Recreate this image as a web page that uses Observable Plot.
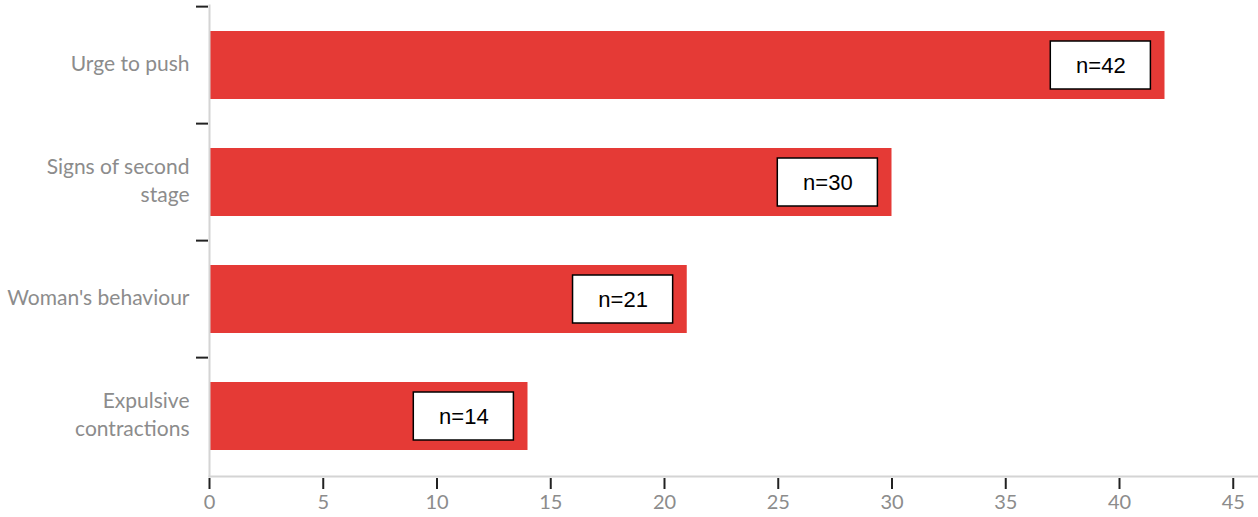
<!DOCTYPE html>
<html><head><meta charset="utf-8">
<script src="https://cdn.jsdelivr.net/npm/d3@7"></script>
<script src="https://cdn.jsdelivr.net/npm/@observablehq/plot@0.6"></script>
<style>html,body{margin:0;padding:0;background:#fff}</style>
</head><body><div id="chart"></div>
<script>
const categories = ["Urge to push", "Signs of second stage", "Woman's behaviour", "Expulsive contractions"];
const tickLabels = ["Urge to push", "Signs of second\nstage", "Woman's behaviour", "Expulsive\ncontractions"];
const counts = [42, 30, 21, 14];
const valueLabels = ["n=42", "n=30", "n=21", "n=14"];
const xTicks = [0, 5, 10, 15, 20, 25, 30, 35, 40, 45];

const data = categories.map((c, i) => ({category: c, value: counts[i], label: valueLabels[i]}));
const W = 1258, H = 517, ml = 209, mt = 5, mb = 41;
const unit = 22.75;
const xMax = (W - ml) / unit;
const step = (H - mt - mb) / categories.length;
const labelFont = "Lato, 'Open Sans', sans-serif";

const plot = Plot.plot({
  width: W, height: H,
  marginLeft: ml, marginRight: 0, marginTop: mt, marginBottom: mb,
  style: {fontFamily: labelFont, background: "#fff", overflow: "visible"},
  x: {domain: [0, xMax], label: null},
  y: {domain: categories, paddingInner: 0.42, paddingOuter: 0.21, label: null},
  marks: [
    Plot.barX(data, {y: "category", x: "value", fill: "#e53a36"}),
    Plot.barX(data, {y: "category", x1: d => d.value - 5.02, x2: d => d.value - 0.62,
      fill: "white", stroke: "black", strokeWidth: 1.5, insetTop: 10, insetBottom: 10}),
    Plot.text(data, {y: "category", x: d => d.value - 2.82, text: "label",
      fontFamily: "'Liberation Sans', Arial, sans-serif", fontSize: 22, fill: "black"}),
    Plot.frame({anchor: "left", stroke: "#d4d4d4", strokeWidth: 2}),
    Plot.frame({anchor: "bottom", stroke: "#d4d4d4", strokeWidth: 2}),
    Plot.axisY({tickSize: 12, text: null, label: null, dy: -step / 2, stroke: "#222", strokeWidth: 2, dx: -1}),
    Plot.axisY({tickSize: 0, tickPadding: 20, label: null, color: "#8c8c8c", fontSize: 21, lineHeight: 1.33, dy: -3,
      tickFormat: d => tickLabels[categories.indexOf(d)]}),
    Plot.axisX({ticks: xTicks, tickSize: 11, text: null, label: null, stroke: "#222", strokeWidth: 2, dy: 2}),
    Plot.axisX({ticks: xTicks, tickSize: 0, tickPadding: 18, label: null, color: "#8c8c8c", fontSize: 20,
      tickFormat: d => String(d)})
  ]
});
document.getElementById("chart").appendChild(plot);
</script>
</body></html>
